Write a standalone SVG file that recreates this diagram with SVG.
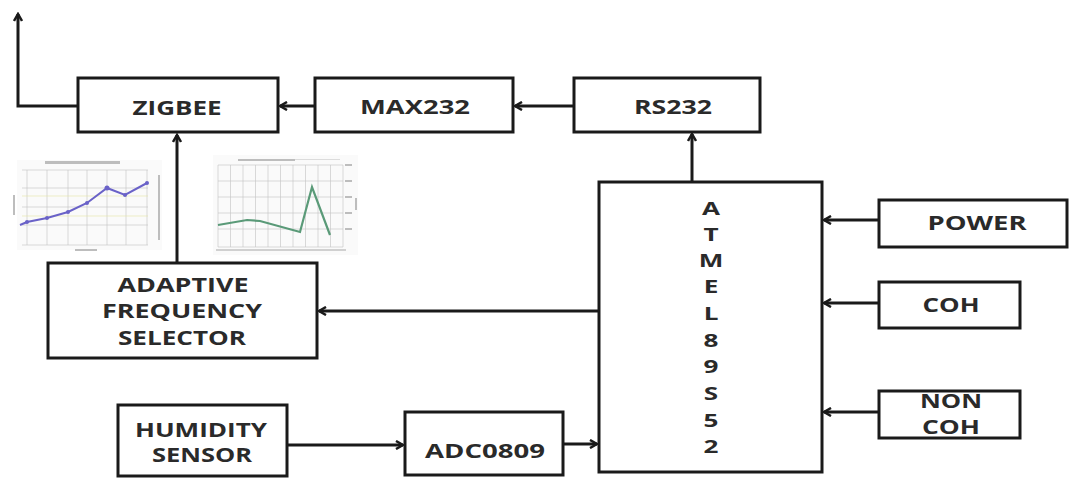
<svg xmlns="http://www.w3.org/2000/svg" width="1071" height="479" viewBox="0 0 1071 479">
<style>
.box{fill:#fff;stroke:#1a1a1a;stroke-width:3}
.lbl{font-family:"Open Sans","Liberation Sans",sans-serif;font-weight:bold;font-size:19px;fill:#2a2a2a;text-anchor:middle}
.let{font-family:"Open Sans","Liberation Sans",sans-serif;font-weight:bold;font-size:18px;fill:#2a2a2a;text-anchor:middle}
.wire{fill:none;stroke:#1a1a1a;stroke-width:3}
.grid{stroke:#c8c8c8;stroke-width:0.7}
.gtxt{fill:#bdbdbd}
</style>
<defs>
<marker id="ah" markerWidth="10" markerHeight="10" refX="8" refY="5" orient="auto" markerUnits="userSpaceOnUse">
<path d="M1,1 L8,5 L1,9" fill="none" stroke="#1a1a1a" stroke-width="2.5"/>
</marker>
</defs>
<rect width="1071" height="479" fill="#fff"/>

<g id="chart1">
<rect x="17" y="160" width="145" height="90" fill="#fafafa"/>
<rect x="45" y="161" width="75" height="3" class="gtxt"/>
<g class="grid">
<line x1="22" y1="170" x2="148" y2="170"/><line x1="22" y1="188" x2="148" y2="188"/><line x1="22" y1="207" x2="148" y2="207"/><line x1="22" y1="225" x2="148" y2="225"/><line x1="22" y1="245" x2="148" y2="245"/>
<line x1="27" y1="170" x2="27" y2="245"/><line x1="47" y1="170" x2="47" y2="245"/><line x1="68" y1="170" x2="68" y2="245"/><line x1="87" y1="170" x2="87" y2="245"/><line x1="107" y1="170" x2="107" y2="245"/><line x1="126" y1="170" x2="126" y2="245"/><line x1="147" y1="170" x2="147" y2="245"/>
</g>
<line x1="22" y1="196" x2="148" y2="196" stroke="#e6e6b0" stroke-width="0.7"/>
<line x1="22" y1="216" x2="148" y2="216" stroke="#e6e6b0" stroke-width="0.7"/>
<rect x="13" y="195" width="2" height="20" class="gtxt"/>
<rect x="158" y="175" width="2" height="65" class="gtxt"/>
<rect x="75" y="249" width="22" height="2" class="gtxt"/>
<polyline points="20,225 27,222 47,218 68,212 87,203 107,188 125,195 147,183" fill="none" stroke="#6a62c8" stroke-width="2"/>
<g fill="#6a62c8"><circle cx="27" cy="222" r="2"/><circle cx="47" cy="218" r="2"/><circle cx="68" cy="212" r="2"/><circle cx="87" cy="203" r="2"/><circle cx="107" cy="188" r="2.5"/><circle cx="125" cy="195" r="2"/><circle cx="147" cy="183" r="2"/></g>
</g>

<g id="chart2">
<rect x="213" y="155" width="145" height="100" fill="#fafafa"/>
<rect x="238" y="159" width="57" height="2" class="gtxt"/>
<rect x="295" y="159" width="45" height="1" fill="#dcdcdc"/>
<g class="grid">
<line x1="218" y1="165" x2="343" y2="165"/><line x1="218" y1="181" x2="343" y2="181"/><line x1="218" y1="197" x2="343" y2="197"/><line x1="218" y1="213" x2="343" y2="213"/><line x1="218" y1="229" x2="343" y2="229"/><line x1="218" y1="247" x2="343" y2="247"/>
<line x1="218" y1="165" x2="218" y2="247"/><line x1="230.5" y1="165" x2="230.5" y2="247"/><line x1="243" y1="165" x2="243" y2="247"/><line x1="255.5" y1="165" x2="255.5" y2="247"/><line x1="268" y1="165" x2="268" y2="247"/><line x1="280.5" y1="165" x2="280.5" y2="247"/><line x1="293" y1="165" x2="293" y2="247"/><line x1="305.5" y1="165" x2="305.5" y2="247"/><line x1="318" y1="165" x2="318" y2="247"/><line x1="330.5" y1="165" x2="330.5" y2="247"/><line x1="343" y1="165" x2="343" y2="247"/>
</g>
<rect x="345" y="164" width="7" height="2" class="gtxt"/><rect x="345" y="180" width="7" height="2" class="gtxt"/><rect x="345" y="196" width="7" height="2" class="gtxt"/><rect x="345" y="212" width="7" height="2" class="gtxt"/><rect x="345" y="228" width="7" height="2" class="gtxt"/>
<rect x="355" y="198" width="2" height="12" class="gtxt"/>
<rect x="216" y="249" width="130" height="2" fill="#d0d0d0"/>
<polyline points="218,225 247,220 260,221 300,232 312,187 330,235" fill="none" stroke="#5a9a78" stroke-width="2.2"/>
</g>

<g id="zigbee"><rect class="box" x="78" y="78" width="200" height="54"/><text class="lbl" x="177" y="115" textLength="89" lengthAdjust="spacingAndGlyphs">ZIGBEE</text></g>
<g id="max232"><rect class="box" x="315" y="78" width="198" height="54"/><text class="lbl" x="415" y="114" textLength="110" lengthAdjust="spacingAndGlyphs">MAX232</text></g>
<g id="rs232"><rect class="box" x="574" y="78" width="186" height="54"/><text class="lbl" x="673" y="114" textLength="78" lengthAdjust="spacingAndGlyphs">RS232</text></g>
<g id="atmel"><rect class="box" x="599" y="182" width="223" height="290"/>
<g class="let" transform="translate(711 0) scale(1.45 1)">
<text x="0" y="215">A</text><text x="0" y="241">T</text><text x="0" y="267">M</text><text x="0" y="293">E</text><text x="0" y="320">L</text><text x="0" y="347">8</text><text x="0" y="373">9</text><text x="0" y="400">S</text><text x="0" y="427">5</text><text x="0" y="453">2</text>
</g></g>
<g id="power"><rect class="box" x="879" y="200" width="188" height="47"/><text class="lbl" x="977" y="230" textLength="99" lengthAdjust="spacingAndGlyphs">POWER</text></g>
<g id="coh"><rect class="box" x="879" y="282" width="141" height="46"/><text class="lbl" x="951" y="312" textLength="57" lengthAdjust="spacingAndGlyphs">COH</text></g>
<g id="noncoh"><rect class="box" x="879" y="391" width="141" height="47"/><text class="lbl" x="951" y="408" textLength="62" lengthAdjust="spacingAndGlyphs">NON</text><text class="lbl" x="951" y="434" textLength="58" lengthAdjust="spacingAndGlyphs">COH</text></g>
<g id="afs"><rect class="box" x="48" y="263" width="269" height="95"/><text class="lbl" x="183" y="292" textLength="131" lengthAdjust="spacingAndGlyphs">ADAPTIVE</text><text class="lbl" x="182" y="318" textLength="160" lengthAdjust="spacingAndGlyphs">FREQUENCY</text><text class="lbl" x="182" y="345" textLength="128" lengthAdjust="spacingAndGlyphs">SELECTOR</text></g>
<g id="humidity"><rect class="box" x="118" y="405" width="169" height="71"/><text class="lbl" x="201" y="437" textLength="132" lengthAdjust="spacingAndGlyphs">HUMIDITY</text><text class="lbl" x="202" y="462" textLength="100" lengthAdjust="spacingAndGlyphs">SENSOR</text></g>
<g id="adc"><rect class="box" x="405" y="412" width="158" height="63"/><text class="lbl" x="485" y="458" textLength="120" lengthAdjust="spacingAndGlyphs">ADC0809</text></g>

<g id="connectors">
<path class="wire" d="M78,106 H18 V14" marker-end="url(#ah)"/>
<path class="wire" d="M315,106 H280" marker-end="url(#ah)"/>
<path class="wire" d="M574,106 H515" marker-end="url(#ah)"/>
<path class="wire" d="M692,182 V134" marker-end="url(#ah)"/>
<path class="wire" d="M177,263 V135" marker-end="url(#ah)"/>
<path class="wire" d="M599,311 H319" marker-end="url(#ah)"/>
<path class="wire" d="M879,220 H824" marker-end="url(#ah)"/>
<path class="wire" d="M879,303 H824" marker-end="url(#ah)"/>
<path class="wire" d="M879,412 H824" marker-end="url(#ah)"/>
<path class="wire" d="M287,445 H403" marker-end="url(#ah)"/>
<path class="wire" d="M563,444 H597" marker-end="url(#ah)"/>
</g>
</svg>
